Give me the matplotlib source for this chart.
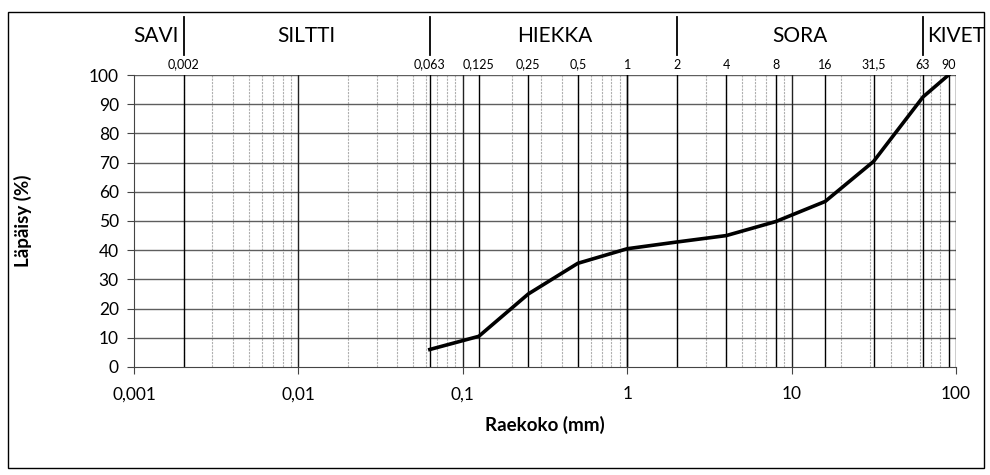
import matplotlib
matplotlib.use("Agg")
import matplotlib.pyplot as plt
from matplotlib.patches import Rectangle

plt.rcParams['font.family'] = ['Lato', 'DejaVu Sans']

sieves = [0.063, 0.125, 0.25, 0.5, 1, 2, 4, 8, 16, 31.5, 63, 90]
passing = [6, 10.5, 25, 35.5, 40.5, 42.8, 45, 49.8, 56.7, 70.4, 92.5, 100]
sieve_labels = ["0,002", "0,063", "0,125", "0,25", "0,5", "1", "2", "4", "8", "16", "31,5", "63", "90"]
sieve_lines = [0.002, 0.063, 0.125, 0.25, 0.5, 1, 2, 4, 8, 16, 31.5, 63, 90]
decade_lines = [0.01, 0.1, 1, 10]
classes = ["SAVI", "SILTTI", "HIEKKA", "SORA", "KIVET"]
class_bounds = [0.002, 0.063, 2, 63]
class_centers = [0.00135, 0.0112, 0.36, 11.2, 75]
x_ticks = [0.001, 0.01, 0.1, 1, 10, 100]
x_ticklabels = ["0,001", "0,01", "0,1", "1", "10", "100"]
y_ticks = list(range(0, 101, 10))

fig = plt.figure(figsize=(9.9, 4.75), dpi=100)
ax = fig.add_axes([0.1354, 0.2274, 0.8303, 0.6147])
ax.set_xscale('log')
ax.set_xlim(0.001, 100)
ax.set_ylim(0, 100)

# minor vertical grid
for d in [0.001, 0.01, 0.1, 1, 10]:
    for m in range(2, 10):
        ax.axvline(d * m, color='#b0b0b0', lw=0.8, ls=(0, (2, 1)), zorder=1)
# horizontal grid
for yv in y_ticks[1:]:
    ax.axhline(yv, color='#5e5e5e', lw=1.0, zorder=1.5)
for xv in decade_lines:
    ax.axvline(xv, color='#222222', lw=1.0, zorder=2)
for xv in sieve_lines:
    ax.axvline(xv, color='black', lw=1.0, zorder=2)

ax.plot(sieves, passing, color='black', lw=2.6, zorder=5, solid_joinstyle='miter')

for s in ['top', 'right']:
    ax.spines[s].set_visible(False)
ax.axvline(100, color='black', lw=1.0, zorder=2)
ax.spines['left'].set_color('#444444')
ax.spines['bottom'].set_color('#444444')

ax.set_xticks(x_ticks)
ax.set_xticklabels(x_ticklabels, fontsize=12.5)
ax.minorticks_off()
ax.set_xticks([], minor=True)
ax.set_yticks(y_ticks)
ax.set_yticklabels([str(v) for v in y_ticks], fontsize=12.5)
ax.tick_params(axis='both', length=5, width=0.8, color='#444444')
ax.tick_params(axis='x', pad=9)
ax.tick_params(axis='y', pad=6)
ax.set_xlabel("Raekoko (mm)", fontsize=13.5, fontweight='bold', labelpad=10)
ax.set_ylabel("Läpäisy (%)", fontsize=13.5, fontweight='bold')
ax.yaxis.set_label_coords(-0.124, 0.5)

for xv, lab in zip(sieve_lines, sieve_labels):
    ax.text(xv, 101.5, lab, ha='center', va='bottom', fontsize=9)

for xv in class_bounds:
    ax.plot([xv, xv], [107, 120], color='black', lw=1.3, clip_on=False)
for xc, lab in zip(class_centers, classes):
    if lab == "KIVET":
        ax.text(67, 113.5, lab, ha='left', va='center', fontsize=15)
    else:
        ax.text(xc, 113.5, lab, ha='center', va='center', fontsize=15)

fig.patches.append(Rectangle((8/990, 7/475), 976/990, 456/475, transform=fig.transFigure,
                             fill=False, edgecolor='black', lw=1.0))

fig.savefig("out.png", dpi=100)
